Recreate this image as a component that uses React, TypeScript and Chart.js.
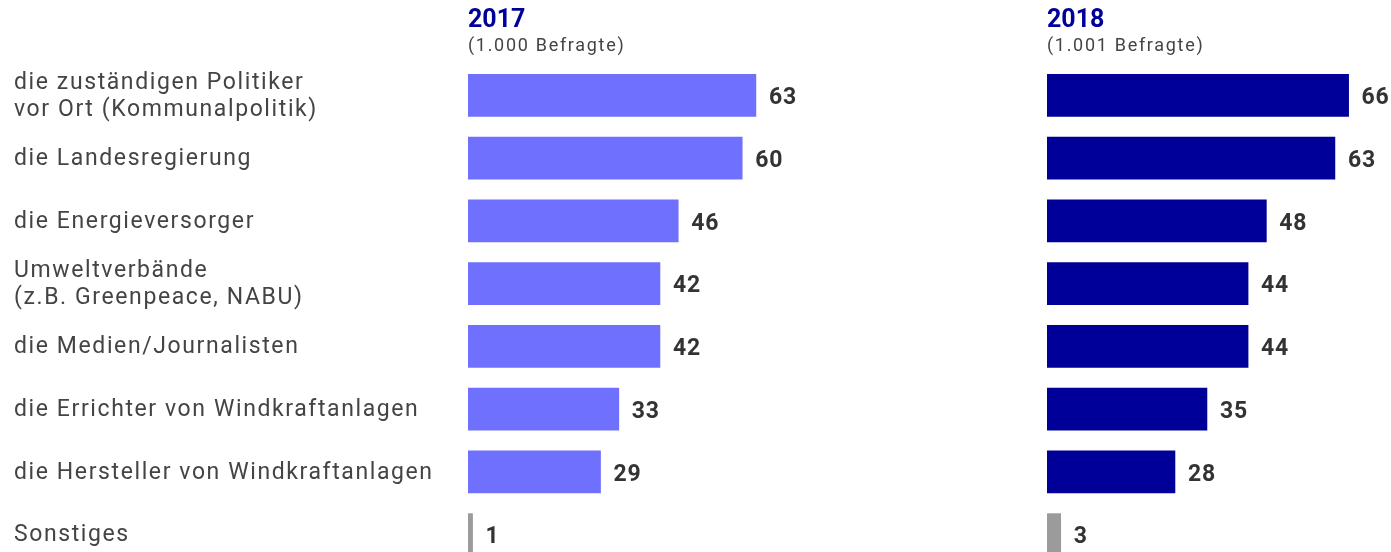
import React, { useEffect, useRef } from "react";
import { Chart, registerables } from "chart.js";

Chart.register(...registerables);

const categories: string[][] = [
  ["die zuständigen Politiker", "vor Ort (Kommunalpolitik)"],
  ["die Landesregierung"],
  ["die Energieversorger"],
  ["Umweltverbände", "(z.B. Greenpeace, NABU)"],
  ["die Medien/Journalisten"],
  ["die Errichter von Windkraftanlagen"],
  ["die Hersteller von Windkraftanlagen"],
  ["Sonstiges"],
];
const values2017 = [63, 60, 46, 42, 42, 33, 29, 1];
const values2018 = [66, 63, 48, 44, 44, 35, 28, 3];
const heading2017 = "2017";
const sub2017 = "(1.000 Befragte)";
const heading2018 = "2018";
const sub2018 = "(1.001 Befragte)";

const FONT = "Roboto, 'Noto Sans', sans-serif";
const COLOR_2017 = "#7070ff";
const COLOR_2018 = "#000099";
const COLOR_OTHER = "#9b9b9b";

function makeConfig(
  values: number[],
  color: string,
  heading: string,
  sub: string,
  padLeft: number,
  padRight: number,
  drawCategories: boolean
): any {
  const colors = values.map((_, i) => (i === values.length - 1 ? COLOR_OTHER : color));
  const labelPlugin = {
    id: "customText",
    afterDatasetsDraw(chart: any) {
      const ctx = chart.ctx;
      const yScale = chart.scales.y;
      const area = chart.chartArea;
      ctx.save();
      ctx.textAlign = "left";
      ctx.textBaseline = "middle";
      // headings
      ctx.letterSpacing = "0px";
      ctx.fillStyle = COLOR_2018;
      ctx.font = `bold 25px ${FONT}`;
      ctx.fillText(heading, area.left, 21);
      ctx.fillStyle = "#444";
      ctx.font = `18px ${FONT}`;
      ctx.letterSpacing = "1.7px";
      ctx.fillText(sub, area.left, 46);
      // category labels
      if (drawCategories) {
        ctx.fillStyle = "#444";
        ctx.font = `23px ${FONT}`;
        ctx.letterSpacing = "1.6px";
        categories.forEach((lines, i) => {
          const cy = yScale.getPixelForValue(i) + 1;
          const lh = 27;
          lines.forEach((line, j) => {
            const y = cy + (j - (lines.length - 1) / 2) * lh;
            ctx.fillText(line, 14, y);
          });
        });
      }
      // value labels
      const meta = chart.getDatasetMeta(0);
      ctx.fillStyle = "#333";
      ctx.font = `bold 23px ${FONT}`;
      ctx.letterSpacing = "0.8px";
      meta.data.forEach((bar: any, i: number) => {
        ctx.fillText(String(values[i]), bar.x + 13, bar.y + 3);
      });
      ctx.restore();
    },
  };
  return {
    type: "bar",
    data: {
      labels: categories.map((c) => c.join(" ")),
      datasets: [
        {
          data: values,
          backgroundColor: colors,
          borderWidth: 0,
          barThickness: 42,
        },
      ],
    },
    options: {
      indexAxis: "y",
      responsive: false,
      animation: false,
      devicePixelRatio: 1,
      layout: { padding: { left: padLeft, right: padRight, top: 64, bottom: 34 } },
      plugins: { legend: { display: false }, tooltip: { enabled: false }, title: { display: false } },
      scales: {
        x: { display: false, min: 0, max: 100 },
        y: { display: false, offset: true },
      },
    },
    plugins: [labelPlugin],
  };
}

export default function App() {
  const ref1 = useRef<HTMLCanvasElement>(null);
  const ref2 = useRef<HTMLCanvasElement>(null);
  useEffect(() => {
    const c1 = new Chart(ref1.current as HTMLCanvasElement, makeConfig(values2017, COLOR_2017, heading2017, sub2017, 468, 75, true));
    const c2 = new Chart(ref2.current as HTMLCanvasElement, makeConfig(values2018, COLOR_2018, heading2018, sub2018, 47, 96, false));
    return () => {
      c1.destroy();
      c2.destroy();
    };
  }, []);
  return (
    <div style={{ position: "fixed", left: 0, top: 0, width: 1391, height: 552, overflow: "hidden", background: "#fff" }}>
      <canvas ref={ref1} width={1000} height={600} style={{ position: "absolute", left: 0, top: 0 }} />
      <canvas ref={ref2} width={600} height={600} style={{ position: "absolute", left: 1000, top: 0 }} />
    </div>
  );
}
